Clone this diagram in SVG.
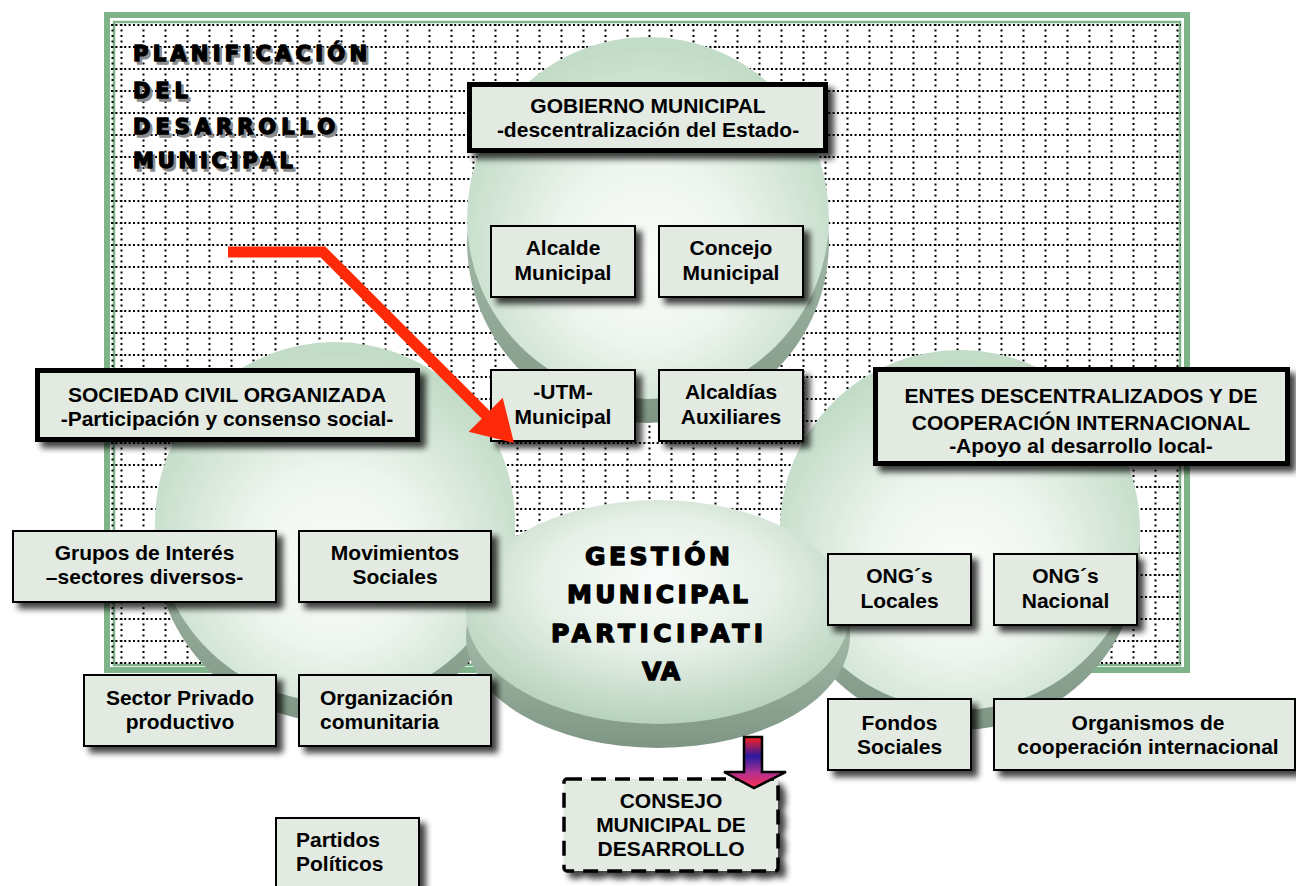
<svg xmlns="http://www.w3.org/2000/svg" width="1296" height="886" viewBox="0 0 1296 886">
  <defs>
    <style>
      .box { fill: #e2eae2; stroke: #000; stroke-width: 2; }
      .head { fill: #e2eae2; stroke: #000; stroke-width: 5; }
      .t { font-family: "Liberation Sans", Arial, sans-serif; font-weight: bold; font-size: 21px; fill: #000; text-anchor: middle; }
      .ts { text-anchor: start; }
      .heavy { font-family: "DejaVu Sans", "Liberation Sans", sans-serif; font-weight: bold; fill: #000; stroke: #000; stroke-width: 1.4; stroke-linejoin: round; }
      .heavy-shadow { font-family: "DejaVu Sans", "Liberation Sans", sans-serif; font-weight: bold; fill: #8c8c8c; stroke: #8c8c8c; stroke-width: 1.4; stroke-linejoin: round; }
      .grid-h { fill: none; stroke: #000; stroke-width: 2; stroke-dasharray: 2 2.4; }
      .grid-v { fill: none; stroke: #000; stroke-width: 2; stroke-dasharray: 2 3.5; }
      .frame { fill: none; stroke: #7fb38a; }
    </style>
    <radialGradient id="faceGrad" cx="50%" cy="58%" r="55%" fx="50%" fy="62%">
      <stop offset="0" stop-color="#fbfdfb"/>
      <stop offset="0.45" stop-color="#eef5ee"/>
      <stop offset="1" stop-color="#c3dcc8"/>
    </radialGradient>
    <radialGradient id="ovalGrad" cx="50%" cy="40%" r="60%" fx="50%" fy="35%">
      <stop offset="0" stop-color="#fafcfa"/>
      <stop offset="0.5" stop-color="#e6f0e7"/>
      <stop offset="1" stop-color="#b7d2bc"/>
    </radialGradient>
    <linearGradient id="sideGrad" x1="0" y1="0" x2="0" y2="1">
      <stop offset="0" stop-color="#b7cbba"/>
      <stop offset="0.6" stop-color="#9bb1a0"/>
      <stop offset="1" stop-color="#7f9685"/>
    </linearGradient>
    <linearGradient id="downGrad" gradientUnits="userSpaceOnUse" x1="0" y1="737" x2="0" y2="788">
      <stop offset="0" stop-color="#ff2020"/>
      <stop offset="0.38" stop-color="#2a1aa0"/>
      <stop offset="0.7" stop-color="#b03090"/>
      <stop offset="1" stop-color="#ff3050"/>
    </linearGradient>
    <filter id="shadow" x="-10%" y="-15%" width="130%" height="150%">
      <feGaussianBlur in="SourceAlpha" stdDeviation="3"/>
      <feOffset dx="6" dy="6"/>
      <feComponentTransfer><feFuncA type="linear" slope="0.75"/></feComponentTransfer>
      <feMerge><feMergeNode/><feMergeNode in="SourceGraphic"/></feMerge>
    </filter>
  </defs>

  <rect width="1296" height="886" fill="#fff"/>

  <!-- planning frame with dotted grid -->
  <g id="frame">
    <rect x="107" y="15" width="1080" height="655" fill="#fff" class="frame" stroke-width="6"/>
    <rect x="114" y="22" width="1066" height="643" class="frame" stroke-width="2.5"/>
    <path class="grid-h" d="M111 25H1181M111 47H1181M111 69H1181M111 91H1181M111 113H1181M111 135H1181M111 157H1181M111 179H1181M111 201H1181M111 223H1181M111 245H1181M111 267H1181M111 289H1181M111 311H1181M111 333H1181M111 355H1181M111 377H1181M111 399H1181M111 421H1181M111 443H1181M111 465H1181M111 487H1181M111 509H1181M111 531H1181M111 553H1181M111 575H1181M111 597H1181M111 619H1181M111 641H1181M111 663H1181"/>
    <path class="grid-v" d="M112.5 24V664M121.5 24V664M143.5 24V664M165.5 24V664M187.5 24V664M209.5 24V664M231.5 24V664M253.5 24V664M275.5 24V664M297.5 24V664M319.5 24V664M341.5 24V664M363.5 24V664M385.5 24V664M407.5 24V664M429.5 24V664M451.5 24V664M473.5 24V664M495.5 24V664M517.5 24V664M539.5 24V664M561.5 24V664M583.5 24V664M605.5 24V664M627.5 24V664M649.5 24V664M671.5 24V664M693.5 24V664M715.5 24V664M737.5 24V664M759.5 24V664M781.5 24V664M803.5 24V664M825.5 24V664M847.5 24V664M869.5 24V664M891.5 24V664M913.5 24V664M935.5 24V664M957.5 24V664M979.5 24V664M1001.5 24V664M1023.5 24V664M1045.5 24V664M1067.5 24V664M1089.5 24V664M1111.5 24V664M1133.5 24V664M1155.5 24V664M1177.5 24V664"/>
  </g>

  <!-- frame title, with offset grey shadow -->
  <g id="title" font-size="21">
    <g class="heavy-shadow" transform="translate(2.5,2.5)">
      <text x="133" y="61" textLength="234" lengthAdjust="spacing">PLANIFICACIÓN</text>
      <text x="133" y="98" textLength="55" lengthAdjust="spacing">DEL</text>
      <text x="133" y="134" textLength="202" lengthAdjust="spacing">DESARROLLO</text>
      <text x="133" y="168" textLength="160" lengthAdjust="spacing">MUNICIPAL</text>
    </g>
    <g class="heavy">
      <text x="133" y="61" textLength="234" lengthAdjust="spacing">PLANIFICACIÓN</text>
      <text x="133" y="98" textLength="55" lengthAdjust="spacing">DEL</text>
      <text x="133" y="134" textLength="202" lengthAdjust="spacing">DESARROLLO</text>
      <text x="133" y="168" textLength="160" lengthAdjust="spacing">MUNICIPAL</text>
    </g>
  </g>

  <!-- discs -->
  <g id="disc-gobierno">
    <circle cx="648" cy="242" r="181" fill="url(#sideGrad)"/>
    <circle cx="648" cy="218" r="181" fill="url(#faceGrad)"/>
  </g>
  <g id="disc-sociedad">
    <circle cx="335" cy="542" r="180" fill="url(#sideGrad)"/>
    <circle cx="335" cy="522" r="180" fill="url(#faceGrad)"/>
  </g>
  <g id="disc-entes">
    <circle cx="960" cy="550" r="180" fill="url(#sideGrad)"/>
    <circle cx="960" cy="530" r="180" fill="url(#faceGrad)"/>
  </g>
  <g id="gestion">
    <ellipse cx="658" cy="636" rx="192" ry="112" fill="url(#sideGrad)"/>
    <ellipse cx="658" cy="612" rx="192" ry="112" fill="url(#ovalGrad)"/>
    <g class="heavy" font-size="25" stroke-width="1.6">
      <text x="585" y="565" textLength="145" lengthAdjust="spacing">GESTIÓN</text>
      <text x="567" y="603" textLength="181" lengthAdjust="spacing">MUNICIPAL</text>
      <text x="551" y="642" textLength="212" lengthAdjust="spacing">PARTICIPATI</text>
      <text x="642" y="680" textLength="38" lengthAdjust="spacing">VA</text>
    </g>
  </g>

  <!-- header boxes -->
  <g id="gobierno-municipal">
    <rect x="469.5" y="84.5" width="356" height="66" class="head" filter="url(#shadow)"/>
    <text class="t" x="648" y="113">GOBIERNO MUNICIPAL</text>
    <text class="t" x="648" y="137">-descentralización del Estado-</text>
  </g>
  <g id="sociedad-civil">
    <rect x="37.5" y="370.5" width="380" height="69" class="head" filter="url(#shadow)"/>
    <text class="t" x="227" y="402">SOCIEDAD CIVIL ORGANIZADA</text>
    <text class="t" x="227" y="426">-Participación y consenso social-</text>
  </g>
  <g id="entes">
    <rect x="875.5" y="369.5" width="412" height="94" class="head" filter="url(#shadow)"/>
    <text class="t" x="1081" y="403">ENTES DESCENTRALIZADOS Y DE</text>
    <text class="t" x="1081" y="430">COOPERACIÓN INTERNACIONAL</text>
    <text class="t" x="1081" y="453">-Apoyo al desarrollo local-</text>
  </g>

  <!-- gobierno members -->
  <g id="alcalde">
    <rect x="491" y="226" width="144" height="71" class="box" filter="url(#shadow)"/>
    <text class="t" x="563" y="255">Alcalde</text>
    <text class="t" x="563" y="280">Municipal</text>
  </g>
  <g id="concejo">
    <rect x="659" y="226" width="144" height="71" class="box" filter="url(#shadow)"/>
    <text class="t" x="731" y="255">Concejo</text>
    <text class="t" x="731" y="280">Municipal</text>
  </g>
  <g id="utm">
    <rect x="491" y="370" width="144" height="71" class="box" filter="url(#shadow)"/>
    <text class="t" x="563" y="399">-UTM-</text>
    <text class="t" x="563" y="424">Municipal</text>
  </g>
  <g id="alcaldias">
    <rect x="659" y="370" width="144" height="71" class="box" filter="url(#shadow)"/>
    <text class="t" x="731" y="399">Alcaldías</text>
    <text class="t" x="731" y="424">Auxiliares</text>
  </g>

  <!-- sociedad members -->
  <g id="grupos">
    <rect x="13" y="531" width="263" height="71" class="box" filter="url(#shadow)"/>
    <text class="t" x="144.5" y="560">Grupos de Interés</text>
    <text class="t" x="144.5" y="584">–sectores diversos-</text>
  </g>
  <g id="movimientos">
    <rect x="299" y="531" width="192" height="71" class="box" filter="url(#shadow)"/>
    <text class="t" x="395" y="560">Movimientos</text>
    <text class="t" x="395" y="584">Sociales</text>
  </g>
  <g id="sector-privado">
    <rect x="84" y="675" width="192" height="71" class="box" filter="url(#shadow)"/>
    <text class="t" x="180" y="705">Sector Privado</text>
    <text class="t" x="180" y="729">productivo</text>
  </g>
  <g id="organizacion">
    <rect x="299" y="675" width="192" height="71" class="box" filter="url(#shadow)"/>
    <text class="t ts" x="320" y="705">Organización</text>
    <text class="t ts" x="320" y="729">comunitaria</text>
  </g>
  <g id="partidos">
    <rect x="276" y="818" width="143" height="80" class="box" filter="url(#shadow)"/>
    <text class="t ts" x="296" y="847">Partidos</text>
    <text class="t ts" x="296" y="871">Políticos</text>
  </g>

  <!-- entes members -->
  <g id="ong-locales">
    <rect x="828" y="554" width="143" height="71" class="box" filter="url(#shadow)"/>
    <text class="t" x="899.5" y="583">ONG´s</text>
    <text class="t" x="899.5" y="608">Locales</text>
  </g>
  <g id="ong-nacional">
    <rect x="994" y="554" width="143" height="71" class="box" filter="url(#shadow)"/>
    <text class="t" x="1065.5" y="583">ONG´s</text>
    <text class="t" x="1065.5" y="608">Nacional</text>
  </g>
  <g id="fondos">
    <rect x="828" y="699" width="143" height="71" class="box" filter="url(#shadow)"/>
    <text class="t" x="899.5" y="730">Fondos</text>
    <text class="t" x="899.5" y="754">Sociales</text>
  </g>
  <g id="organismos">
    <rect x="994" y="699" width="301" height="71" class="box" filter="url(#shadow)"/>
    <text class="t" x="1148" y="730">Organismos de</text>
    <text class="t" x="1148" y="754">cooperación internacional</text>
  </g>

  <!-- council -->
  <g id="consejo">
    <rect x="564" y="779" width="214" height="92" rx="3" fill="#e2eae2" stroke="#000" stroke-width="3.5" stroke-dasharray="15 9" filter="url(#shadow)"/>
    <text class="t" x="671" y="808">CONSEJO</text>
    <text class="t" x="671" y="832">MUNICIPAL DE</text>
    <text class="t" x="671" y="856">DESARROLLO</text>
  </g>

  <!-- connectors -->
  <g id="connectors">
    <polyline points="228,252 323,252 490,419" fill="none" stroke="#ff2a0a" stroke-width="11" stroke-linejoin="miter"/>
    <polygon points="514,443 468.7,431.7 502.7,397.7" fill="#ff2a0a"/>
    <polygon points="744,737 762,737 762,772 786,772 754,788 724,772 744,772" fill="url(#downGrad)" stroke="#000" stroke-width="2.5" stroke-linejoin="miter"/>
  </g>
</svg>
